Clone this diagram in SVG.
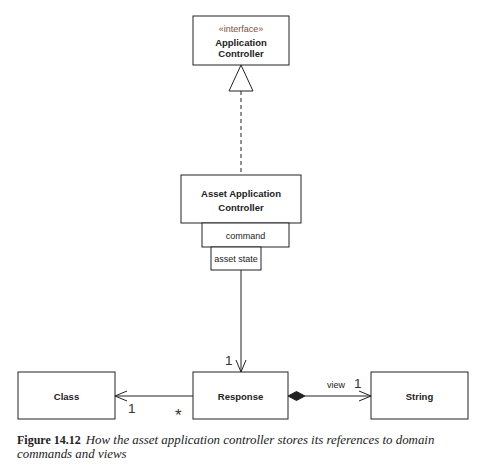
<svg xmlns="http://www.w3.org/2000/svg" width="494" height="476" viewBox="0 0 494 476">
<style>
.box{fill:#fff;stroke:#222;stroke-width:1}
.lbl{font-family:"Liberation Sans",Arial,sans-serif;font-size:9.5px;font-weight:bold;fill:#222;text-anchor:middle}
.attr{font-family:"Liberation Sans",Arial,sans-serif;font-size:9px;fill:#222;text-anchor:middle}
.st{font-family:"Liberation Sans",Arial,sans-serif;font-size:9px;fill:#8a4a2a;text-anchor:middle}
.mult{font-family:"Liberation Sans",Arial,sans-serif;font-size:13.5px;fill:#333}
.line{fill:none;stroke:#222;stroke-width:1}
.cap{font-family:"Liberation Serif","Times New Roman",serif;font-size:12px;fill:#222}
</style>
<rect width="494" height="476" fill="#fff"/>
<g id="connectors">
  <line class="line" x1="241" y1="91" x2="241" y2="175" stroke-dasharray="4,3"/>
  <polygon points="241,65 229,91 253,91" fill="#fff" stroke="#222" stroke-width="1"/>
  <line class="line" x1="241" y1="270" x2="241" y2="372"/>
  <polyline class="line" points="236,360 241,372 246,360"/>
  <line class="line" x1="115" y1="396" x2="193" y2="396"/>
  <polyline class="line" points="127,391 115,396 127,401"/>
  <line class="line" x1="305" y1="396" x2="371" y2="396"/>
  <polygon points="288,396 296.5,391.5 305,396 296.5,400.5" fill="#222" stroke="#222" stroke-width="1"/>
  <polyline class="line" points="359,391 371,396 359,401"/>
  <text class="mult" x="225" y="365">1</text>
  <text class="mult" x="128" y="413">1</text>
  <text class="mult" x="175" y="421" style="font-size:17px">*</text>
  <text class="attr" x="336" y="388">view</text>
  <text class="mult" x="354" y="388">1</text>
</g>
<g id="app-controller">
  <rect class="box" x="193" y="16" width="96" height="49"/>
  <text class="st" x="241" y="32">«interface»</text>
  <text class="lbl" x="241" y="46">Application</text>
  <text class="lbl" x="241" y="57">Controller</text>
</g>
<g id="asset-app-controller">
  <rect class="box" x="181" y="175" width="120" height="48"/>
  <text class="lbl" x="241" y="197">Asset Application</text>
  <text class="lbl" x="241" y="211">Controller</text>
  <rect class="box" x="202" y="223" width="87" height="24"/>
  <text class="attr" x="245.5" y="239">command</text>
  <rect class="box" x="211" y="247" width="50" height="23"/>
  <text class="attr" x="236" y="262">asset state</text>
</g>
<g id="class">
  <rect class="box" x="18" y="372" width="97" height="47"/>
  <text class="lbl" x="66.5" y="400">Class</text>
</g>
<g id="response">
  <rect class="box" x="193" y="372" width="95" height="47"/>
  <text class="lbl" x="240.5" y="400">Response</text>
</g>
<g id="string">
  <rect class="box" x="371" y="372" width="97" height="47"/>
  <text class="lbl" x="419.5" y="400">String</text>
</g>
<g id="caption">
  <text class="cap" x="17" y="444"><tspan font-weight="bold">Figure 14.12</tspan><tspan font-style="italic" dx="5" style="font-size:12.9px">How the asset application controller stores its references to domain</tspan></text>
  <text class="cap" x="17" y="458" font-style="italic" style="font-size:12.9px">commands and views</text>
</g>
</svg>
